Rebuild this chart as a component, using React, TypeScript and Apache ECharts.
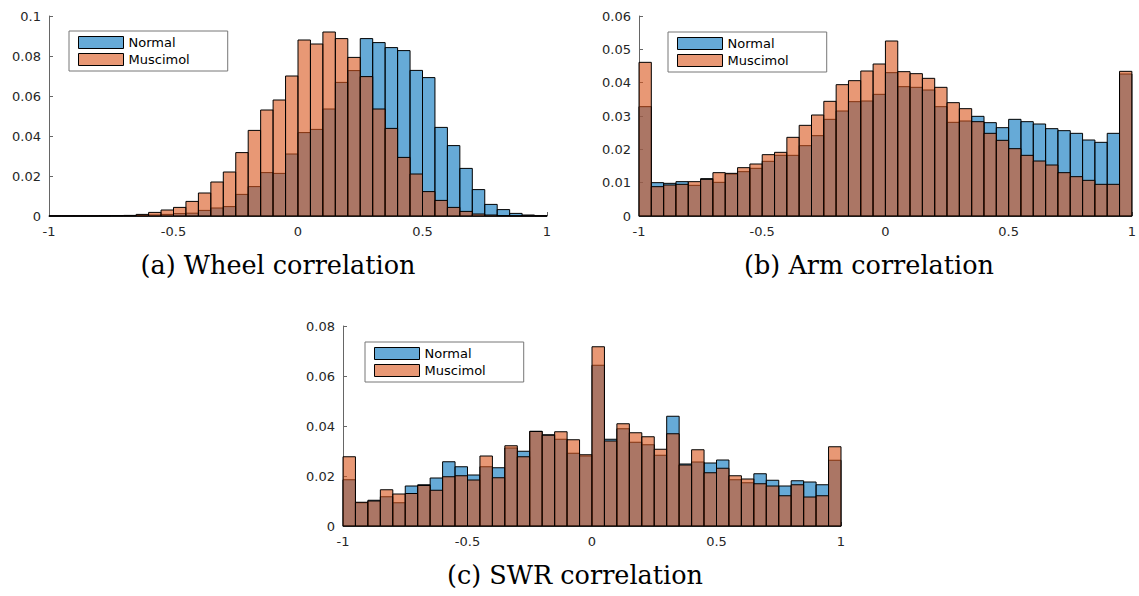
import React, { useEffect, useRef } from "react";
import * as echarts from "echarts";

// Histogram bins: 40 bins of width 0.05 from -1 to 1
const BIN_MIN = -1;
const BIN_WIDTH = 0.05;
const seriesNames = ["Normal", "Muscimol"];
const captions = ["(a) Wheel correlation", "(b) Arm correlation", "(c) SWR correlation"];

// (a) Wheel correlation
const wheelNormal = [
  0.0001, 0.0001, 0.0001, 0.0001, 0.0001, 0.0002, 0.0002, 0.0003, 0.0005, 0.0008,
  0.0012, 0.0014, 0.0028, 0.004, 0.0047, 0.0108, 0.0147, 0.0217, 0.0213, 0.031,
  0.0417, 0.0433, 0.0535, 0.0668, 0.0727, 0.0887, 0.0867, 0.0842, 0.0827, 0.0728,
  0.0692, 0.0443, 0.0352, 0.0238, 0.0132, 0.0058, 0.0032, 0.0013, 0.0005, 0.0001,
];
const wheelMuscimol = [
  0.0001, 0.0001, 0.0001, 0.0001, 0.0002, 0.0002, 0.0003, 0.0008, 0.0018, 0.003,
  0.0043, 0.0073, 0.0115, 0.017, 0.022, 0.0317, 0.0428, 0.053, 0.058, 0.07,
  0.088, 0.086, 0.092, 0.0887, 0.0793, 0.0697, 0.0535, 0.0438, 0.0293, 0.021,
  0.0122, 0.0078, 0.0043, 0.0023, 0.001, 0.0005, 0.0002, 0.0001, 0.0001, 0.0001,
];

// (b) Arm correlation
const armNormal = [
  0.0328, 0.01, 0.0098, 0.0103, 0.0092, 0.0112, 0.0101, 0.0126, 0.0133, 0.0143,
  0.0164, 0.0182, 0.0182, 0.0211, 0.0241, 0.029, 0.0315, 0.0343, 0.0345, 0.0365,
  0.043, 0.0388, 0.0386, 0.0378, 0.0328, 0.0281, 0.0285, 0.0299, 0.028, 0.0265,
  0.029, 0.0283, 0.0276, 0.0262, 0.0256, 0.0248, 0.0228, 0.0221, 0.0248, 0.0426,
];
const armMuscimol = [
  0.0461, 0.0088, 0.0093, 0.0095, 0.0103, 0.011, 0.013, 0.0128, 0.0145, 0.0156,
  0.0184, 0.0191, 0.0236, 0.0272, 0.0303, 0.0344, 0.0394, 0.0406, 0.0435, 0.0456,
  0.0525, 0.0433, 0.0427, 0.0413, 0.0386, 0.034, 0.0322, 0.0283, 0.0248, 0.0227,
  0.0202, 0.0182, 0.0165, 0.0153, 0.013, 0.0118, 0.0107, 0.0095, 0.0095, 0.0434,
];

// (c) SWR correlation
const swrNormal = [
  0.0185, 0.0093, 0.0103, 0.0117, 0.0093, 0.016, 0.0165, 0.0192, 0.0257, 0.0237,
  0.0204, 0.0237, 0.0233, 0.0312, 0.0299, 0.0379, 0.0365, 0.0347, 0.0291, 0.028,
  0.0643, 0.0347, 0.0389, 0.0335, 0.0325, 0.0283, 0.0439, 0.0248, 0.0256, 0.0252,
  0.0264, 0.0185, 0.0173, 0.0209, 0.0183, 0.016, 0.0181, 0.0176, 0.0165, 0.0263,
];
const swrMuscimol = [
  0.0277, 0.0095, 0.01, 0.0145, 0.0128, 0.013, 0.0162, 0.0143, 0.0197, 0.0201,
  0.0184, 0.028, 0.0193, 0.0321, 0.0277, 0.0378, 0.0363, 0.0377, 0.0345, 0.0285,
  0.0717, 0.034, 0.0409, 0.0373, 0.0357, 0.0307, 0.0369, 0.0244, 0.0305, 0.0213,
  0.0231, 0.0201, 0.0188, 0.0169, 0.016, 0.0121, 0.0165, 0.0116, 0.0121, 0.0317,
];

const yMaxes = [0.1, 0.06, 0.08];
const yIntervals = [0.02, 0.01, 0.02];

// layout (pixels)
const layout = [
  { grid: { left: 49, top: 16 }, legend: { left: 69, top: 31 }, caption: { x: 278, y: 265 } },
  { grid: { left: 639, top: 16 }, legend: { left: 668, top: 32 }, caption: { x: 869, y: 265 } },
  { grid: { left: 343, top: 326 }, legend: { left: 365, top: 342 }, caption: { x: 575, y: 575 } },
];

const NORMAL_FILL = "rgba(0,114,189,0.6)";
const MUSCIMOL_FILL = "rgba(217,83,25,0.6)";
const AXIS_COLOR = "#666";
const LABEL_COLOR = "#262626";
const SANS = "DejaVu Sans";

function toBins(values: number[]) {
  return values.map((v, i) => [BIN_MIN + i * BIN_WIDTH, BIN_MIN + (i + 1) * BIN_WIDTH, v]);
}

function makeRender(fill: string) {
  return (_params: any, api: any) => {
    const p0 = api.coord([api.value(0), api.value(2)]);
    const p1 = api.coord([api.value(1), 0]);
    return {
      type: "rect",
      shape: { x: p0[0], y: p0[1], width: p1[0] - p0[0], height: p1[1] - p0[1] },
      style: { fill, stroke: "#000", lineWidth: 1 },
    };
  };
}

export default function App() {
  const ref = useRef<HTMLDivElement>(null);

  useEffect(() => {
    if (!ref.current) return;
    const chart = echarts.init(ref.current, undefined, { renderer: "svg" });
    const data = [
      [wheelNormal, wheelMuscimol],
      [armNormal, armMuscimol],
      [swrNormal, swrMuscimol],
    ];

    const series: any[] = [];
    data.forEach((pair, i) => {
      [NORMAL_FILL, MUSCIMOL_FILL].forEach((fill, j) => {
        series.push({
          type: "custom",
          name: seriesNames[j],
          xAxisIndex: i,
          yAxisIndex: i,
          renderItem: makeRender(fill),
          itemStyle: { color: fill, borderColor: "#000", borderWidth: 1 },
          encode: { x: [0, 1], y: 2 },
          data: toBins(pair[j]),
          z: 2 + j,
        });
      });
    });

    const option: any = {
      animation: false,
      backgroundColor: "#fff",
      grid: layout.map((l) => ({ left: l.grid.left, top: l.grid.top, width: 498, height: 200 })),
      xAxis: layout.map((_, i) => ({
        type: "value",
        gridIndex: i,
        min: -1,
        max: 1,
        interval: 0.5,
        axisLine: { show: true, onZero: false, lineStyle: { color: AXIS_COLOR, width: 1 } },
        axisTick: { show: true, inside: true, length: 4, lineStyle: { color: AXIS_COLOR } },
        axisLabel: { color: LABEL_COLOR, fontSize: 13, fontFamily: SANS, margin: 9 },
        splitLine: { show: false },
      })),
      yAxis: layout.map((_, i) => ({
        type: "value",
        gridIndex: i,
        min: 0,
        max: yMaxes[i],
        interval: yIntervals[i],
        axisLine: { show: true, onZero: false, lineStyle: { color: AXIS_COLOR, width: 1 } },
        axisTick: { show: true, inside: true, length: 4, lineStyle: { color: AXIS_COLOR } },
        axisLabel: { color: LABEL_COLOR, fontSize: 13, fontFamily: SANS, margin: 8 },
        splitLine: { show: false },
      })),
      legend: layout.map((l) => ({
        orient: "vertical",
        left: l.legend.left,
        top: l.legend.top,
        data: seriesNames.map((n) => ({ name: n })),
        icon: "rect",
        itemWidth: 45,
        itemHeight: 12,
        itemGap: 4,
        padding: [5, 38, 5, 9],
        borderColor: "#777",
        borderWidth: 1,
        backgroundColor: "#fff",
        selectedMode: false,
        textStyle: { fontSize: 13, fontFamily: SANS, color: "#000" },
        itemStyle: { borderColor: "#000", borderWidth: 1 },
      })),
      graphic: layout.map((l, i) => ({
        type: "text",
        x: l.caption.x,
        y: l.caption.y,
        style: {
          text: captions[i],
          fill: "#000",
          fontSize: 25.5,
          fontFamily: "DejaVu Serif",
          align: "center",
          verticalAlign: "middle",
        },
      })),
      series,
    };

    chart.setOption(option);
    return () => chart.dispose();
  }, []);

  return (
    <div
      ref={ref}
      style={{ position: "absolute", left: 0, top: 0, width: 1139, height: 596 }}
    />
  );
}
